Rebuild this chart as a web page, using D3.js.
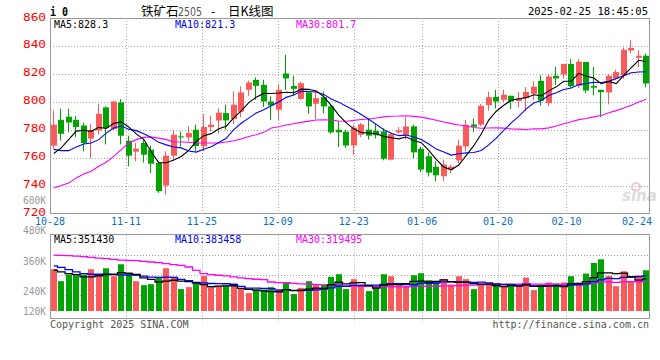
<!DOCTYPE html>
<html><head><meta charset="utf-8">
<script src="https://cdn.jsdelivr.net/npm/d3@7"></script>
<style>body{margin:0;background:#fff}svg{display:block}</style>
</head><body>
<svg id="c" width="660" height="360"></svg>
<script>
const dates = [
"10-28","10-29","10-30","10-31","11-01","11-04","11-05","11-06","11-07","11-08",
"11-11","11-12","11-13","11-14","11-15","11-18","11-19","11-20","11-21","11-22",
"11-25","11-26","11-27","11-28","11-29","12-02","12-03","12-04","12-05","12-06",
"12-09","12-10","12-11","12-12","12-13","12-16","12-17","12-18","12-19","12-20",
"12-23","12-24","12-25","12-26","12-27","12-30","12-31","01-02","01-03","01-06",
"01-07","01-08","01-09","01-10","01-13","01-14","01-15","01-16","01-17","01-20",
"01-21","01-22","01-23","01-24","01-27","02-05","02-06","02-07","02-10","02-11",
"02-12","02-13","02-14","02-17","02-18","02-19","02-20","02-21","02-24","02-25"];
const open = [768.6,787.1,789.3,787.1,783.0,773.6,779.5,796.0,780.5,799.5,
772.1,764.3,770.5,765.7,756.2,740.0,761.4,775.2,774.5,780.0,
768.1,781.9,786.6,791.9,787.6,792.9,808.6,815.7,812.1,800.2,
794.3,820.3,811.4,802.1,806.7,798.6,803.3,796.7,780.0,778.6,
768.7,776.4,780.0,779.2,778.8,758.6,778.1,776.4,782.4,766.4,
761.0,753.5,746.7,751.6,758.0,768.1,783.8,783.6,797.6,803.5,
801.4,804.3,800.6,802.6,805.7,815.0,799.0,818.6,819.5,827.1,
811.4,828.5,811.4,808.6,806.7,816.6,818.9,836.7,831.5,833.0];
const high = [793.8,795.0,795.0,790.0,785.0,784.0,798.6,796.7,800.5,801.9,
775.7,770.5,773.0,768.6,757.4,764.5,780.0,778.8,782.4,783.6,
791.4,790.0,795.3,797.9,807.4,811.0,815.2,817.4,815.7,803.8,
812.1,833.6,818.6,814.5,807.4,807.4,807.4,797.9,786.0,780.0,
783.6,784.8,788.3,784.5,781.0,777.8,781.9,789.0,783.6,767.8,
763.8,757.4,758.5,755.0,772.9,786.9,788.0,798.5,807.2,808.6,
808.6,804.3,807.0,810.5,814.8,819.0,819.9,825.0,827.1,830.6,
830.5,828.5,825.0,808.6,819.9,823.0,838.9,844.3,837.0,834.5];
const low = [766.2,772.1,778.1,774.8,764.5,759.8,776.4,769.5,779.8,769.5,
753.8,757.4,756.5,749.0,734.8,733.6,757.5,768.0,771.7,764.5,
764.5,778.8,777.3,780.0,784.0,789.0,804.3,801.4,796.2,787.1,
787.1,808.5,804.5,801.4,791.4,787.6,791.9,777.1,767.6,767.0,
762.1,774.8,772.9,773.8,758.1,758.0,777.1,773.0,759.5,749.8,
746.5,743.1,743.1,749.0,756.0,764.5,778.2,782.4,793.7,795.2,
799.5,794.8,796.1,793.3,801.4,797.3,797.1,812.0,816.6,809.8,
809.8,806.2,804.6,789.0,798.1,815.4,816.5,834.7,824.8,810.3];
const close = [783.6,777.1,785.2,781.9,770.5,779.5,791.4,781.2,800.2,775.7,
761.4,766.4,762.1,755.7,736.0,761.4,776.4,774.6,777.6,768.3,
781.9,783.6,792.2,786.7,797.9,806.7,813.8,811.4,800.2,797.4,
808.6,816.7,809.3,813.3,796.7,802.6,796.7,778.1,778.1,768.7,
781.5,783.8,775.7,776.0,759.2,776.8,779.5,782.3,763.8,751.4,
749.3,747.3,755.0,753.5,768.6,783.6,782.1,797.1,803.3,800.2,
805.0,800.2,802.3,807.1,810.8,800.8,818.1,816.7,827.1,811.2,
828.7,808.1,810.1,806.9,818.6,821.3,837.3,838.5,833.0,813.1];
const volume = [428400,306000,374000,367200,374000,428400,367200,438600,357000,479400,
394400,306000,265200,275400,350200,438600,350200,224400,244800,278800,
360400,238000,258400,258400,282200,227800,183600,221000,221000,244800,
221000,289000,173400,238000,306000,272000,272000,350200,377400,224400,
326400,275400,204000,248200,377400,357000,265200,255000,367200,387600,
316200,299200,326400,272000,357000,326400,224400,289000,289000,282200,
265200,282200,265200,343400,214200,272000,292400,282200,292400,357000,
289000,384200,493000,530400,360400,255000,408000,306000,360400,418200];
// moving-average values for days whose window starts before the first bar
const ma5Head = [763.0,767.0,773.0,779.0];
const ma10Head = [765.9,765.0,765.0,767.6,769.8,770.5,772.9,777.6,781.2];
const ma30Head = [738.3,740.0,741.9,745.5,748.3,750.2,753.8,756.7,760.9,765.7,
770.5,772.9,774.5,774.8,774.0,772.9,771.4,771.2,771.0,770.5,
770.5,770.5,770.5,771.2,772.1,773.3,775.2,776.4,778.1];
const volMa5Head = [438600,421600,404600,394400];
const volMa10Head = [482800,469200,445400,421600,404600,397800,397800,397800,397800];
const volMa30Head = [594600,591200,587800,584400,577600,570800,564000,557200,550400,543600,
540200,536800,530000,523200,516400,506200,496000,489200,472200,438200,
404200,394000,387200,380400,370200,360000,353200,346400,343000];
const priceTicks = [720,740,760,780,800,820,840,860];
const dateTicks = ["10-28","11-11","11-25","12-09","12-23","01-06","01-20","02-10","02-24"];
const volTicks = [120000,240000,360000,480000,600000];
const priceLegend = ["MA5:828.3","MA10:821.3","MA30:801.7"];
const volLegend = ["MA5:351430","MA10:383458","MA30:319495"];
const titleParts = ["铁矿石","2505","-","日K线图"];
const stamp = "2025-02-25 18:45:05";

const RED = "#fa5a5a", GREEN = "#00a400", MA5C = "#000000", MA10C = "#0000ff", MA30C = "#ff00ff";
const GRID = "#a8a8a8", FRAME = "#999999";
const MONO = "'DejaVu Sans Mono', 'Liberation Mono', monospace";
const n = dates.length;
const L = 50, R = 650, PT = 18, PB = 213.5, VT = 234.5, VB = 318.5, VBASE = 311;

const svg = d3.select("#c");
const y = d3.scaleLinear().domain([720, 860]).range([PB, PT]);
const xb = d3.scaleBand().domain(d3.range(n)).range([L, R]).paddingInner(0.2).paddingOuter(0.1);
const xt = d3.scaleLinear().domain([0, n - 1]).range([L, R]);
const yv = d3.scaleLinear().domain([0, 785000]).range([VBASE, VT]);
const yvLab = d3.scaleLinear().domain([240000, 600000]).range([291.3, 200.7]);
const bw = 6;
const bx = i => Math.round(xb(i));
const cx = i => bx(i) + 2.5;

function ma(arr, k, head) {
  return arr.map((v, i) => i < k - 1 ? head[i] : d3.mean(arr.slice(i - k + 1, i + 1)));
}

const defs = svg.append("defs");
defs.append("clipPath").attr("id", "cp").append("rect").attr("x", L).attr("y", PT).attr("width", R - L).attr("height", PB - PT);
defs.append("clipPath").attr("id", "cv").append("rect").attr("x", L).attr("y", VT).attr("width", R - L).attr("height", VB - VT);

// ---- header ----
svg.append("text").attr("x", 50).attr("y", 15.5).attr("font-family", MONO).attr("font-weight", "bold")
  .attr("font-size", 13).attr("fill", "#000").text("i 0").attr("textLength", 18).attr("lengthAdjust", "spacingAndGlyphs");
const tx = [141, 178, 211, 228];
titleParts.forEach((t, k) => {
  const el = svg.append("text").attr("x", tx[k]).attr("y", 15.5)
    .attr("font-family", k === 1 ? "'DejaVu Sans', sans-serif" : "'Noto Sans CJK SC', sans-serif")
    .attr("font-size", k === 1 ? 11.5 : 12.5).attr("fill", k === 1 ? "#555" : "#000").text(t);
  if (k === 1) el.attr("textLength", 24).attr("lengthAdjust", "spacingAndGlyphs");
});
svg.append("text").attr("x", 648).attr("y", 14.5).attr("text-anchor", "end").attr("font-family", MONO)
  .attr("font-size", 10.5).attr("fill", "#000").text(stamp);

// ---- grid ----
const g = svg.append("g");
priceTicks.filter(t => t > 720 && t < 860).forEach(t => {
  const yy = Math.round(y(t)) + 0.5;
  g.append("line").attr("x1", L).attr("x2", R).attr("y1", yy).attr("y2", yy)
    .attr("stroke", GRID).attr("stroke-dasharray", "1,2");
});
const tickIdx = dateTicks.map(d => dates.indexOf(d));
tickIdx.slice(1, -1).forEach(i => {
  const xx = Math.round(xt(i)) + 0.5;
  g.append("line").attr("x1", xx).attr("x2", xx).attr("y1", PT).attr("y2", PB)
    .attr("stroke", GRID).attr("stroke-dasharray", "1,2");
  g.append("line").attr("x1", xx).attr("x2", xx).attr("y1", VT).attr("y2", 322)
    .attr("stroke", GRID).attr("stroke-dasharray", "1,2");
});
[0, 1, 2].forEach(k => {
  const yy = 255.5 + 20 * k;
  g.append("line").attr("x1", L).attr("x2", R).attr("y1", yy).attr("y2", yy)
    .attr("stroke", GRID).attr("stroke-dasharray", "1,2");
});

// sina watermark
svg.append("text").attr("x", 622).attr("y", 201).attr("font-family", "'DejaVu Sans', sans-serif")
  .attr("font-style", "italic").attr("font-weight", "bold").attr("font-size", 15).attr("fill", "#dcdcdc").text("sina");
svg.append("circle").attr("cx", 636).attr("cy", 187).attr("r", 4).attr("fill", "none").attr("stroke", "#f0c8c8").attr("stroke-width", 2);

// ---- candles ----
const cg = svg.append("g").attr("clip-path", "url(#cp)");
d3.range(n).forEach(i => {
  const up = close[i] >= open[i];
  const col = up ? RED : GREEN;
  cg.append("line").attr("x1", cx(i)).attr("x2", cx(i)).attr("y1", y(high[i])).attr("y2", y(low[i]))
    .attr("stroke", col).attr("stroke-width", 1);
  const top = y(Math.max(open[i], close[i])), bot = y(Math.min(open[i], close[i]));
  cg.append("rect").attr("x", bx(i)).attr("y", top).attr("width", bw).attr("height", Math.max(1, bot - top)).attr("fill", col);
});

const line = d3.line().x((d, i) => xb(i) + xb.bandwidth() / 2).y(d => y(d));
[[ma(close, 30, ma30Head), MA30C], [ma(close, 10, ma10Head), MA10C], [ma(close, 5, ma5Head), MA5C]].forEach(([arr, c]) => {
  cg.append("path").attr("d", line(arr)).attr("fill", "none").attr("stroke", c).attr("stroke-width", 1.1);
});

// ---- volume ----
const vg = svg.append("g").attr("clip-path", "url(#cv)");
d3.range(n).forEach(i => {
  const col = close[i] >= open[i] ? RED : GREEN;
  vg.append("rect").attr("x", bx(i)).attr("y", yv(volume[i])).attr("width", bw)
    .attr("height", VBASE - yv(volume[i])).attr("fill", col);
});
const vline = d3.line().x((d, i) => xb(i) + xb.bandwidth() / 2).y(d => yv(d) + 2).curve(d3.curveStep);
[[ma(volume, 30, volMa30Head), MA30C], [ma(volume, 10, volMa10Head), MA10C], [ma(volume, 5, volMa5Head), MA5C]].forEach(([arr, c]) => {
  vg.append("path").attr("d", vline(arr)).attr("fill", "none").attr("stroke", c).attr("stroke-width", 1.3);
});

// frames
svg.append("rect").attr("x", L + 0.5).attr("y", PT + 0.5).attr("width", R - L - 1).attr("height", PB - PT - 0.5)
  .attr("fill", "none").attr("stroke", FRAME);
svg.append("rect").attr("x", L + 0.5).attr("y", VT).attr("width", R - L - 1).attr("height", VB - VT)
  .attr("fill", "none").attr("stroke", FRAME);

// legends
const legX = [54, 175, 296];
const legC = [MA5C, MA10C, MA30C];
priceLegend.forEach((t, k) => svg.append("text").attr("x", legX[k]).attr("y", 27.5).attr("font-family", MONO)
  .attr("font-size", 10).attr("fill", legC[k]).text(t));
volLegend.forEach((t, k) => svg.append("text").attr("x", legX[k]).attr("y", 243).attr("font-family", MONO)
  .attr("font-size", 10).attr("fill", legC[k]).text(t));

// y axis labels
priceTicks.forEach(t => svg.append("text").attr("x", 46).attr("y", y(t) + 2.5).attr("text-anchor", "end")
  .attr("font-family", MONO).attr("font-size", 10.5).attr("fill", "#ff0000")
  .attr("textLength", 23).attr("lengthAdjust", "spacingAndGlyphs").text(t));
volTicks.forEach(t => svg.append("text").attr("x", 46).attr("y", Math.min(311.3, yvLab(t)) + 3.5).attr("text-anchor", "end")
  .attr("font-family", MONO).attr("font-size", 10).attr("fill", "#999")
  .attr("textLength", 23).attr("lengthAdjust", "spacingAndGlyphs").text(d3.format("d")(t / 1000) + "K"));

// x axis labels
dateTicks.forEach((d, k) => {
  const i = tickIdx[k];
  const xx = xt(i);
  const last = k === dateTicks.length - 1;
  svg.append("text").attr("x", last ? 652 : xx).attr("y", 224.5).attr("text-anchor", last ? "end" : "middle")
    .attr("font-family", MONO).attr("font-size", 10).attr("fill", "#0a6fc2").text(d);
});

// footer
svg.append("text").attr("x", 50).attr("y", 328).attr("font-family", MONO).attr("font-size", 10)
  .attr("fill", "#555").text("Copyright 2025 SINA.COM");
svg.append("text").attr("x", 649).attr("y", 328).attr("text-anchor", "end").attr("font-family", MONO).attr("font-size", 10)
  .attr("fill", "#555").text("http://finance.sina.com.cn");
</script>
</body></html>
